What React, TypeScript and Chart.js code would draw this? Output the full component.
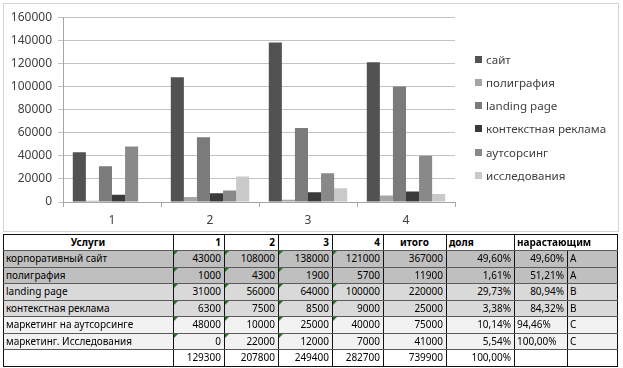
import React, { useEffect, useRef } from "react";
import { Chart, registerables } from "chart.js";

Chart.register(...registerables);

// ---- chart data ----
const categories = ["1", "2", "3", "4"];
const seriesNames = ["сайт", "полиграфия", "landing page", "контекстная реклама", "аутсорсинг", "исследования"];
const site = [43000, 108000, 138000, 121000];
const printing = [1000, 4300, 1900, 5700];
const landing = [31000, 56000, 64000, 100000];
const contextAds = [6300, 7500, 8500, 9000];
const outsourcing = [48000, 10000, 25000, 40000];
const research = [0, 22000, 12000, 7000];
const seriesColors = ["#525252", "#a5a5a5", "#7b7b7b", "#3a3a3a", "#898989", "#c9c9c9"];
const yMax = 160000;
const yStep = 20000;

// ---- table data ----
const tableHeader = ["Услуги", "1", "2", "3", "4", "итого", "доля", "нарастающим"];
const serviceNames = [
  "корпоративный сайт",
  "полиграфия",
  "landing page",
  "контекстная реклама",
  "маркетинг на аутсорсинге",
  "маркетинг. Исследования",
];
const serviceTotals = [367000, 11900, 220000, 25000, 75000, 41000];
const shares = ["49,60%", "1,61%", "29,73%", "3,38%", "10,14%", "5,54%"];
const cumulative = ["49,60%", "51,21%", "80,94%", "84,32%", "94,46%", "100,00%"];
const abcClass = ["A", "A", "B", "B", "C", "C"];
const quarterTotals = [129300, 207800, 249400, 282700];
const grandTotal = 739900;
const totalShare = "100,00%";

const seriesData = [site, printing, landing, contextAds, outsourcing, research];

// layout constants
const colX = [3, 173, 224, 278, 332, 383, 446, 514, 567, 617];
const rowY = [234, 250, 267, 283, 300, 316, 333, 349, 366];
const classBg: Record<string, string> = { A: "#bfbfbf", B: "#d9d9d9", C: "#f2f2f2" };

const FONT = "'Noto Sans', 'DejaVu Sans', sans-serif";

function ChartBox() {
  const ref = useRef<HTMLCanvasElement | null>(null);
  useEffect(() => {
    if (!ref.current) return;
    const chart = new Chart(ref.current, {
      type: "bar",
      data: {
        labels: categories,
        datasets: seriesNames.map((name, i) => ({
          label: name,
          data: seriesData[i],
          backgroundColor: seriesColors[i],
          borderWidth: 0,
          categoryPercentage: 0.8,
          barPercentage: 1.0,
        })),
      },
      options: {
        animation: false,
        responsive: false,
        layout: { padding: { top: 13, right: 163, left: 0, bottom: 0 } },
        plugins: { legend: { display: false }, tooltip: { enabled: false } },
        scales: {
          x: {
            grid: { display: true, drawOnChartArea: false, drawTicks: true, tickLength: 5, color: "#a6a6a6", offset: true },
            border: { display: true, color: "#a6a6a6" },
            ticks: { color: "#404040", font: { family: FONT, size: 12 }, padding: 6 },
            afterFit: (s: any) => { s.height = 29; },
          },
          y: {
            min: 0,
            max: yMax,
            ticks: { stepSize: yStep, color: "#404040", font: { family: FONT, size: 12 }, padding: 6, callback: (v: any) => String(v) },
            grid: { color: "#c3c3c3", tickLength: 5, drawTicks: true },
            border: { display: true, color: "#a6a6a6" },
            afterFit: (s: any) => { s.width = 59; },
          },
        },
      },
    });
    return () => chart.destroy();
  }, []);
  return (
    <div style={{ position: "absolute", left: 3, top: 3, width: 616, height: 229, border: "1px solid #d4d4d4", boxSizing: "border-box", background: "#fff" }}>
      <canvas ref={ref} width={614} height={227} style={{ display: "block", width: 614, height: 227 }} />
      {seriesNames.map((name, i) => (
        <div key={name} style={{ position: "absolute", left: 471, top: 55 + i * 23.3 - 9, height: 18, display: "flex", alignItems: "center", fontFamily: FONT, fontSize: 11.6, color: "#404040", whiteSpace: "nowrap" }}>
          <span style={{ display: "inline-block", width: 7, height: 7, background: seriesColors[i], marginRight: 4 }} />
          {name}
        </div>
      ))}
    </div>
  );
}

type CellSpec = { c0: number; c1: number; text: string; align: "left" | "right" | "center"; bold?: boolean; tri?: boolean };

function Table() {
  const rows: { bg: string; cells: CellSpec[] }[] = [];
  rows.push({
    bg: "#fff",
    cells: [
      { c0: 0, c1: 1, text: tableHeader[0], align: "center", bold: true },
      { c0: 1, c1: 2, text: tableHeader[1], align: "right", bold: true },
      { c0: 2, c1: 3, text: tableHeader[2], align: "right", bold: true },
      { c0: 3, c1: 4, text: tableHeader[3], align: "right", bold: true },
      { c0: 4, c1: 5, text: tableHeader[4], align: "right", bold: true },
      { c0: 5, c1: 6, text: tableHeader[5], align: "center", bold: true },
      { c0: 6, c1: 7, text: tableHeader[6], align: "left", bold: true },
      { c0: 7, c1: 9, text: tableHeader[7], align: "left", bold: true },
    ],
  });
  const col4Tri = [true, false, true, true, true, false];
  serviceNames.forEach((name, r) => {
    const cls = abcClass[r];
    rows.push({
      bg: classBg[cls],
      cells: [
        { c0: 0, c1: 1, text: name, align: "left" },
        ...categories.map((_, q) => ({
          c0: 1 + q,
          c1: 2 + q,
          text: String(seriesData[r][q]),
          align: "right" as const,
          tri: q < 3 ? true : col4Tri[r],
        })),
        { c0: 5, c1: 6, text: String(serviceTotals[r]), align: "right" },
        { c0: 6, c1: 7, text: shares[r], align: "right" },
        { c0: 7, c1: 8, text: cumulative[r], align: cls === "C" ? "left" : "right" },
        { c0: 8, c1: 9, text: cls, align: "left" },
      ],
    });
  });
  rows.push({
    bg: "#fff",
    cells: [
      { c0: 0, c1: 1, text: "", align: "left" },
      ...quarterTotals.map((t, q) => ({ c0: 1 + q, c1: 2 + q, text: String(t), align: "right" as const })),
      { c0: 5, c1: 6, text: String(grandTotal), align: "right" },
      { c0: 6, c1: 7, text: totalShare, align: "right" },
      { c0: 7, c1: 8, text: "", align: "left" },
      { c0: 8, c1: 9, text: "", align: "left" },
    ],
  });

  const els: React.ReactNode[] = [];
  rows.forEach((row, r) => {
    const y0 = rowY[r];
    const y1 = rowY[r + 1];
    row.cells.forEach((c, k) => {
      const x0 = colX[c.c0];
      const x1 = colX[c.c1];
      els.push(
        <div
          key={`c${r}-${k}`}
          style={{
            position: "absolute",
            left: x0,
            top: y0,
            width: x1 - x0,
            height: y1 - y0,
            background: row.bg,
            fontFamily: FONT,
            fontSize: 10,
            fontWeight: c.bold ? 700 : 400,
            color: "#000",
            lineHeight: `${y1 - y0}px`,
            textAlign: c.align,
            padding: "0 3px 0 3px",
            boxSizing: "border-box",
            whiteSpace: "nowrap",
            overflow: "hidden",
          }}
        >
          {c.text}
        </div>
      );
      if (c.tri) {
        els.push(
          <div
            key={`t${r}-${k}`}
            style={{ position: "absolute", left: x0 + 1, top: y0 + 1, width: 0, height: 0, borderTop: "4px solid #1f7a1f", borderRight: "4px solid transparent" }}
          />
        );
      }
      els.push(<div key={`v${r}-${k}`} style={{ position: "absolute", left: x0, top: y0, width: 1, height: y1 - y0 + 1, background: "#111" }} />);
    });
    els.push(<div key={`vr${r}`} style={{ position: "absolute", left: colX[colX.length - 1], top: y0, width: 1, height: y1 - y0 + 1, background: "#111" }} />);
  });
  rowY.forEach((y, i) => {
    const outer = i === 0 || i === rowY.length - 1;
    els.push(<div key={`h${i}`} style={{ position: "absolute", left: colX[0], top: y, width: colX[colX.length - 1] - colX[0] + 1, height: 1, background: outer ? "#111" : "#5a5a5a" }} />);
  });
  return <>{els}</>;
}

export default function App() {
  return (
    <div style={{ position: "absolute", left: 0, top: 0, width: 623, height: 368, background: "#fff", overflow: "hidden" }}>
      <ChartBox />
      <Table />
    </div>
  );
}
